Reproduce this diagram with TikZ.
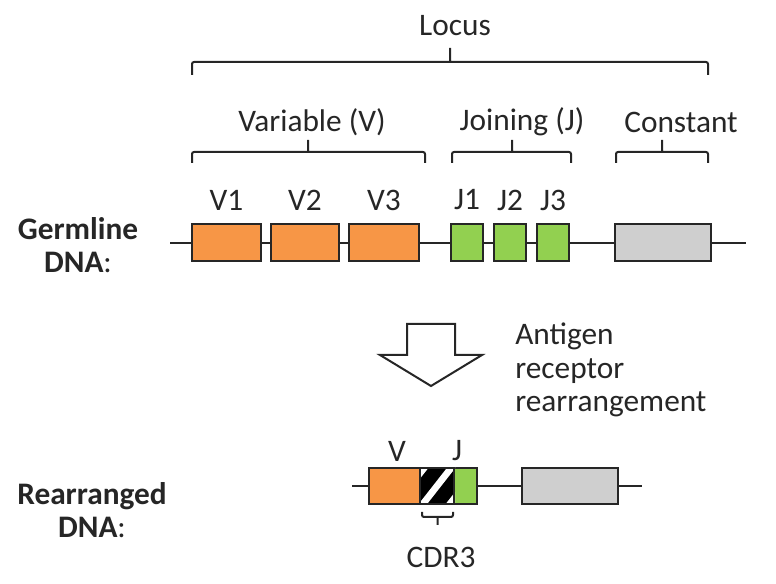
\documentclass[tikz,border=0pt]{standalone}
\usepackage{fontspec}
\setmainfont{Carlito}
\usetikzlibrary{positioning}
\definecolor{vorange}{HTML}{F79646}
\definecolor{jgreen}{HTML}{92D050}
\definecolor{cgray}{HTML}{CFCFCF}
\definecolor{ink}{HTML}{262626}
\newdimen\px \px=0.75pt

\begin{document}
\begin{tikzpicture}[x=0.75pt,y=-0.75pt,font=\fontsize{23.5}{25}\selectfont,text=ink]
  \tikzstyle{gene}=[draw=ink,line width=1.5pt,inner sep=0pt,minimum height=37*\px]
  \tikzstyle{lbl}=[inner sep=0pt]
  \tikzstyle{brace}=[draw=ink,line width=1.5pt,rounded corners=1.5pt]
  \tikzstyle{strand}=[draw=ink,line width=1.2pt]
  \useasboundingbox (0,0) rectangle (776,584);

  \path[strand] (170,243) coordinate (gl) -- (746,243) coordinate (gr);
  \node[gene,fill=vorange,minimum width=69*\px] (v1) at (226.5,243) {};
  \node[gene,fill=vorange,minimum width=68*\px] (v2) at (305,243) {};
  \node[gene,fill=vorange,minimum width=70*\px] (v3) at (384,243) {};
  \node[gene,fill=jgreen,minimum width=32*\px] (j1) at (467,243) {};
  \node[gene,fill=jgreen,minimum width=32*\px] (j2) at (510,243) {};
  \node[gene,fill=jgreen,minimum width=32*\px] (j3) at (553,243) {};
  \node[gene,fill=cgray,minimum width=96*\px] (c) at (663,243) {};

  \node[lbl] (v1l) at (226.5,200) {V1};
  \node[lbl] (v2l) at (305,200) {V2};
  \node[lbl] (v3l) at (384,200) {V3};
  \node[lbl] (j1l) at (467,200) {J1};
  \node[lbl] (j2l) at (510,200) {J2};
  \node[lbl] (j3l) at (553,200) {J3};

  \path[brace] (192,75) -- (192,62) -- (708,62) -- (708,75) (450,62) -- (450,48);
  \node[lbl] (locus) at (455,26) {Locus};
  \path[brace] (192,163) -- (192,152) -- (425,152) -- (425,163) (308,152) -- (308,140);
  \node[lbl] (var) at (312,122) {Variable (V)};
  \path[brace] (452,163) -- (452,152) -- (571,152) -- (571,163) (512,152) -- (512,140);
  \node[lbl] (join) at (522,122) {Joining (J)};
  \path[brace] (616,163) -- (616,152) -- (708,152) -- (708,163) (662,152) -- (662,140);
  \node[lbl] (const) at (681,122) {Constant};

  \node[lbl,align=center] (germ) at (78,245) {\textbf{Germline}\\\textbf{DNA}:};

  \draw[ink,line width=1.5pt,fill=white,line join=miter]
    (407,324) -- (455,324) -- (455,355) -- (482,355) -- (431,386) -- (380,355) -- (407,355) -- cycle;
  \node[lbl,align=left,anchor=west] (step) at (515,370) {Antigen\\receptor\\rearrangement};

  \path[strand] (352,486) coordinate (rl) -- (642,486) coordinate (rr);
  \node[gene,fill=vorange,minimum width=51*\px,minimum height=36*\px] (rv) at (394.5,486) {};
  \node[gene,fill=black,minimum width=34*\px,minimum height=36*\px] (cdr) at (437,486) {};
  \node[gene,fill=jgreen,minimum width=23*\px,minimum height=36*\px] (rj) at (465.5,486) {};
  \node[gene,fill=cgray,minimum width=96*\px,minimum height=36*\px] (rc) at (570,486) {};
  \begin{scope}
    \clip (cdr.south west) rectangle (cdr.north east);
    \foreach \d in {-27,0,27}
      \draw[white,line width=5pt] ([xshift=\d*\px,yshift=-4*\px]cdr.south west) -- ([xshift=\d*\px,yshift=4*\px]cdr.north east);
  \end{scope}
  \node[gene,minimum width=34*\px,minimum height=36*\px] at (cdr) {};

  \node[lbl] (rvl) at (397,451) {V};
  \node[lbl] (rjl) at (457,451) {J};
  \path[brace] (422,512) -- (422,517) -- (453,517) -- (453,512) (437.5,517) -- (437.5,525);
  \node[lbl] (cdrl) at (441,557) {CDR3};

  \node[lbl,align=center] (rearr) at (92,510) {\textbf{Rearranged}\\\textbf{DNA}:};
\end{tikzpicture}
\end{document}
